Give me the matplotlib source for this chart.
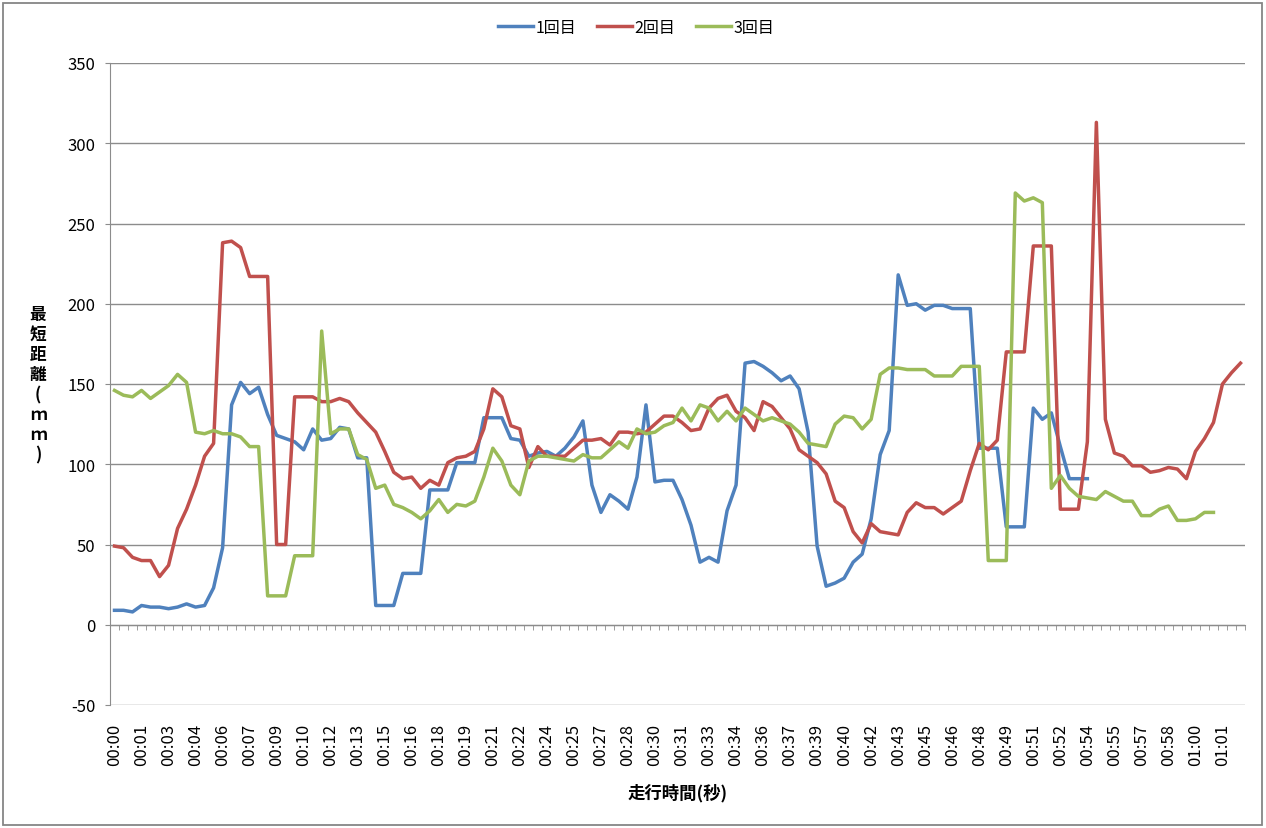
import matplotlib
matplotlib.use("Agg")
import matplotlib.pyplot as plt
from matplotlib.patches import Rectangle

plt.rcParams['font.family'] = ['Noto Sans CJK JP', 'DejaVu Sans']
plt.rcParams['axes.unicode_minus'] = False

# 0.5 s per sample
times = [i * 0.5 for i in range(126)]

run1 = [9, 9, 8, 12, 11, 11, 10, 11, 13, 11, 12, 23, 48, 137, 151, 144, 148, 131, 118, 116,
        114, 109, 122, 115, 116, 123, 122, 104, 104, 12, 12, 12, 32, 32, 32, 84, 84, 84, 101, 101,
        101, 129, 129, 129, 116, 115, 105, 107, 108, 105, 110, 117, 127, 87, 70, 81, 77, 72, 92, 137,
        89, 90, 90, 78, 62, 39, 42, 39, 71, 87, 163, 164, 161, 157, 152, 155, 147, 120, 49, 24,
        26, 29, 39, 44, 66, 106, 121, 218, 199, 200, 196, 199, 199, 197, 197, 197, 110, 110, 110, 61,
        61, 61, 135, 128, 132, 111, 91, 91, 91]

run2 = [49, 48, 42, 40, 40, 30, 37, 60, 72, 87, 105, 113, 238, 239, 235, 217, 217, 217, 50, 50,
        142, 142, 142, 139, 139, 141, 139, 132, 126, 120, 108, 95, 91, 92, 85, 90, 87, 101, 104, 105,
        108, 122, 147, 142, 124, 122, 98, 111, 105, 105, 105, 110, 115, 115, 116, 112, 120, 120, 119, 120,
        125, 130, 130, 126, 121, 122, 135, 141, 143, 133, 129, 121, 139, 136, 129, 122, 109, 105, 101, 94,
        77, 73, 58, 51, 63, 58, 57, 56, 70, 76, 73, 73, 69, 73, 77, 96, 113, 109, 115, 170,
        170, 170, 236, 236, 236, 72, 72, 72, 114, 313, 128, 107, 105, 99, 99, 95, 96, 98, 97, 91,
        108, 116, 126, 150, 157, 163]

run3 = [146, 143, 142, 146, 141, 145, 149, 156, 151, 120, 119, 121, 119, 119, 117, 111, 111, 18, 18, 18,
        43, 43, 43, 183, 119, 122, 122, 106, 103, 85, 87, 75, 73, 70, 66, 71, 78, 70, 75, 74,
        77, 92, 110, 102, 87, 81, 102, 105, 105, 104, 103, 102, 106, 104, 104, 109, 114, 110, 122, 119,
        120, 124, 126, 135, 127, 137, 135, 127, 133, 127, 135, 131, 127, 129, 127, 125, 120, 113, 112, 111,
        125, 130, 129, 122, 128, 156, 160, 160, 159, 159, 159, 155, 155, 155, 161, 161, 161, 40, 40, 40,
        269, 264, 266, 263, 85, 93, 85, 80, 79, 78, 83, 80, 77, 77, 68, 68, 72, 74, 65, 65,
        66, 70, 70]

series_names = ['1回目', '2回目', '3回目']
colors = ['#4F81BD', '#C0504D', '#9BBB59']

tick_idx = list(range(0, len(times), 3))
tick_labels = ['%02d:%02d' % (int(times[i]) // 60, int(times[i]) % 60) for i in tick_idx]

grey = '#8c8c8c'

fig = plt.figure(figsize=(12.66, 8.29), dpi=100)
ax = fig.add_axes([110 / 1266, 1 - 706 / 829, 1135 / 1266, 642 / 829])

for data, name, c in zip([run1, run2, run3], series_names, colors):
    ax.plot(range(len(data)), data, color=c, lw=2.5, label=name, solid_joinstyle='round')

ax.set_xlim(-0.5, len(times) - 0.5)
ax.set_ylim(-50, 350)
ax.set_yticks(range(-50, 351, 50))
ax.yaxis.grid(True, color=grey, lw=1)
ax.set_axisbelow(True)

# category axis crosses at 0
ax.spines['bottom'].set_position(('data', 0))
ax.spines['bottom'].set_color(grey)
ax.spines['left'].set_color(grey)
ax.spines['top'].set_visible(False)
ax.spines['right'].set_visible(False)
ax.set_xticks([])
ax.set_xticks([i - 0.5 for i in range(len(times) + 1)], minor=True)
ax.tick_params(axis='x', which='minor', length=3.6, color=grey, direction='out')
ax.tick_params(axis='y', length=3.6, color=grey, labelsize=12, pad=7)

# labels sit at the bottom of the plot area
sec = ax.secondary_xaxis(0.0)
sec.set_xticks(tick_idx, tick_labels, rotation=90)
sec.tick_params(length=0, labelsize=12, pad=13)
sec.spines['bottom'].set_visible(False)

ax.set_ylabel('最\n短\n距\n離\n(\nｍ\nｍ\n)', rotation=0, fontsize=12, fontweight='bold',
              va='center', ha='center', linespacing=1.15)
ax.yaxis.set_label_coords((38 - 110) / 1135, 0.5)

fig.text(678 / 1266, 1 - 793 / 829, '走行時間(秒)', ha='center', va='center',
         fontsize=12.5, fontweight='bold')

fig.legend(loc='center', bbox_to_anchor=(636 / 1266, 1 - 28 / 829), ncol=3, frameon=False,
           fontsize=11.5, handlelength=2.2, handletextpad=0.15, columnspacing=1.3)

fig.patches.append(Rectangle((3 / 1266, 3 / 829), 1259 / 1266, 822 / 829, transform=fig.transFigure,
                             fill=False, ec='#868686', lw=1.3))

plt.savefig('out.png', dpi=100)
plt.close()
